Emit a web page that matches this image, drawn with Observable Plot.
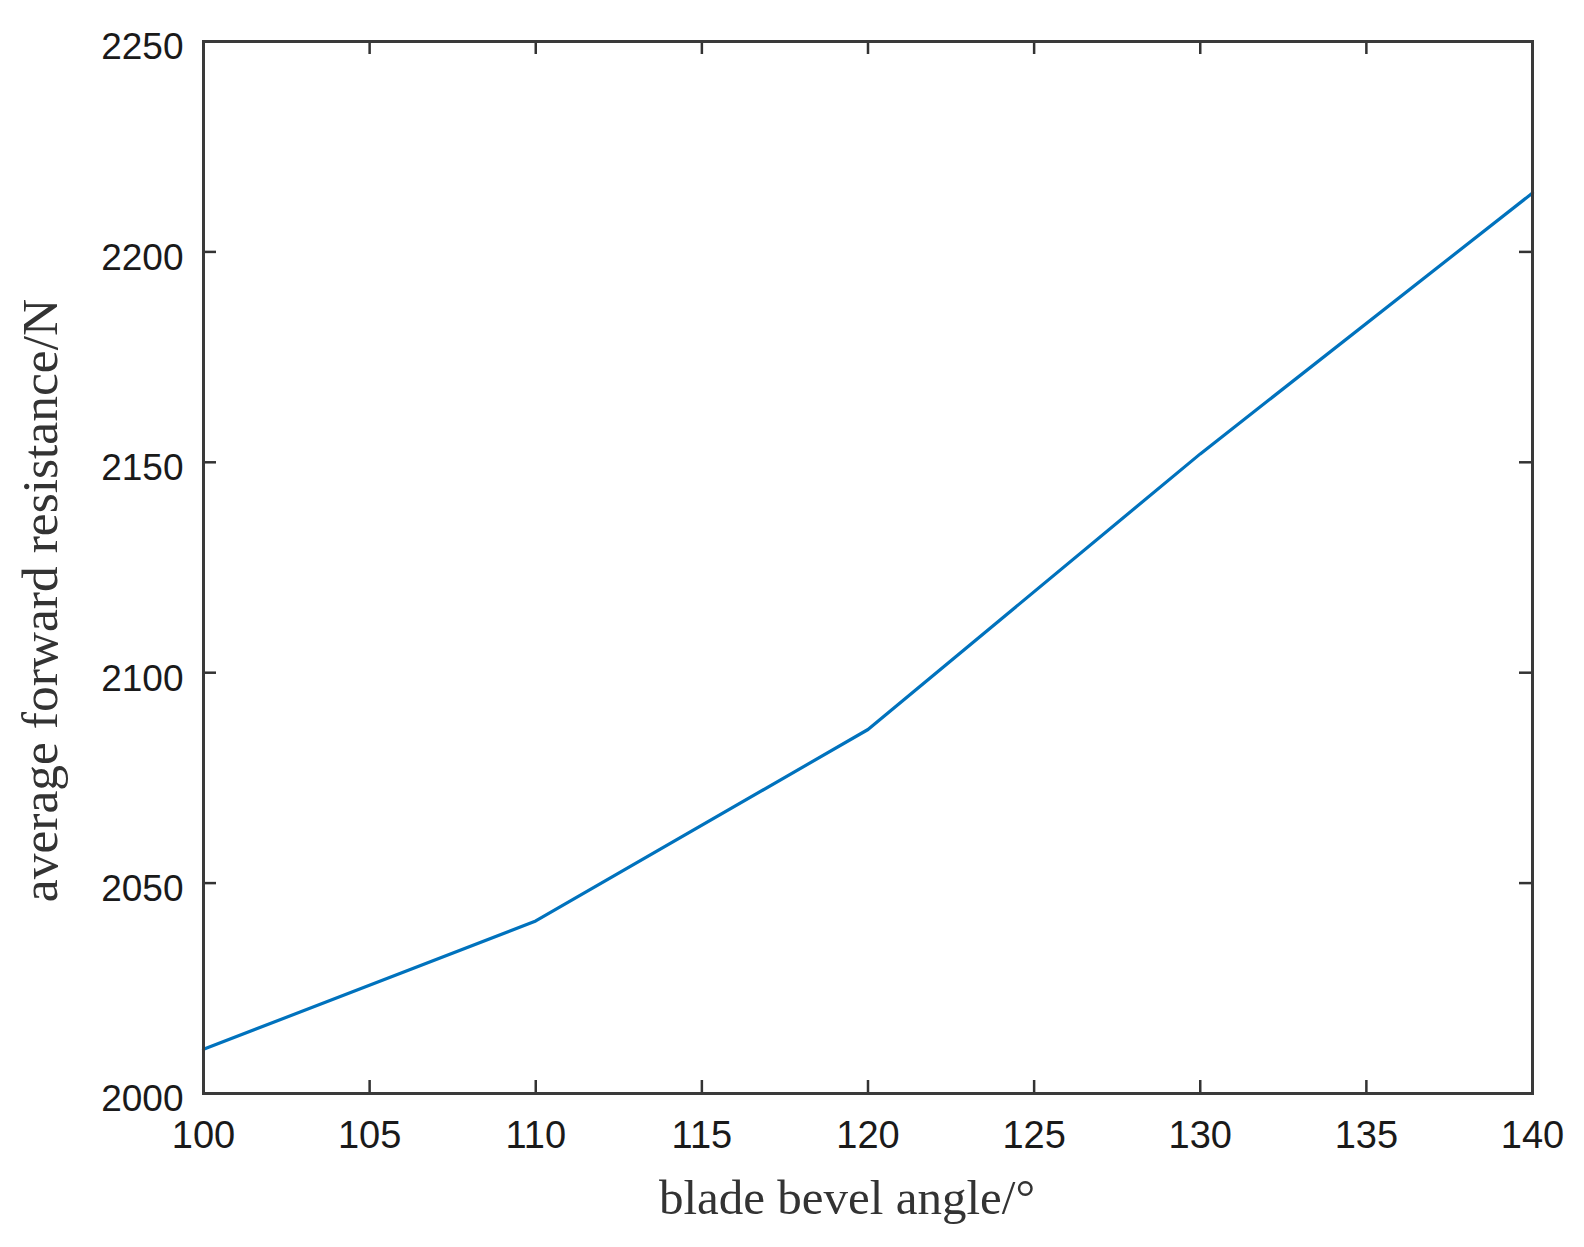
<!DOCTYPE html>
<html>
<head>
<meta charset="utf-8">
<script src="https://cdn.jsdelivr.net/npm/d3@7"></script>
<script src="https://cdn.jsdelivr.net/npm/@observablehq/plot@0.6"></script>
<style>
  html, body { margin: 0; padding: 0; background: #fff; }
  svg { overflow: visible; }
</style>
</head>
<body>
<div id="chart"></div>
<script>
const angles = [100, 110, 120, 130, 140];
const resistance = [2010.5, 2041, 2086.5, 2152, 2214];
const xTicks = [100, 105, 110, 115, 120, 125, 130, 135, 140];
const yTicks = [2000, 2050, 2100, 2150, 2200, 2250];
const xLabel = "blade bevel angle/°";
const yLabel = "average forward resistance/N";

const data = angles.map((a, i) => ({angle: a, value: resistance[i]}));

const W = 1584, H = 1247;
const mL = 203, mR = 52, mT = 41, mB = 154;
const innerW = W - mL - mR, innerH = H - mT - mB;
const tickLen = 13;
const sans = "'Liberation Sans', Arial, Helvetica, sans-serif";
const serif = "'Liberation Serif', 'Times New Roman', Times, serif";

const chart = Plot.plot({
  width: W,
  height: H,
  marginLeft: mL,
  marginRight: mR,
  marginTop: mT,
  marginBottom: mB,
  style: {fontFamily: sans, color: "#1a1a1a", background: "#fff"},
  x: {domain: [100, 140]},
  y: {domain: [2000, 2250]},
  marks: [
    Plot.tickX(xTicks, {x: d => d, insetTop: innerH - tickLen, stroke: "#333", strokeWidth: 2.5}),
    Plot.tickX(xTicks, {x: d => d, insetBottom: innerH - tickLen, stroke: "#333", strokeWidth: 2.5}),
    Plot.tickY(yTicks, {y: d => d, insetRight: innerW - tickLen, stroke: "#333", strokeWidth: 2.5}),
    Plot.tickY(yTicks, {y: d => d, insetLeft: innerW - tickLen, stroke: "#333", strokeWidth: 2.5}),
    Plot.line(data, {x: "angle", y: "value", stroke: "#0072BD", strokeWidth: 3.2}),
    Plot.frame({stroke: "#3a3a3a", strokeWidth: 3}),
    Plot.axisX({ticks: xTicks, tickSize: 0, tickPadding: 28, fontSize: 38, label: null, fill: "#1a1a1a", tickFormat: d => String(d)}),
    Plot.axisY({ticks: yTicks, tickSize: 0, tickPadding: 20, fontSize: 37, label: null, fill: "#1a1a1a", dy: 6, tickFormat: d => String(d)}),
    Plot.text([xLabel], {frameAnchor: "bottom", text: d => d, dx: -21, dy: 120, fontSize: 49, fontFamily: serif, fill: "#333"}),
    Plot.text([yLabel], {frameAnchor: "left", text: d => d, textAnchor: "middle", rotate: -90, dx: -163, dy: 33, fontSize: 51.5, fontFamily: serif, fill: "#333"})
  ]
});
document.getElementById("chart").appendChild(chart);
</script>
</body>
</html>
